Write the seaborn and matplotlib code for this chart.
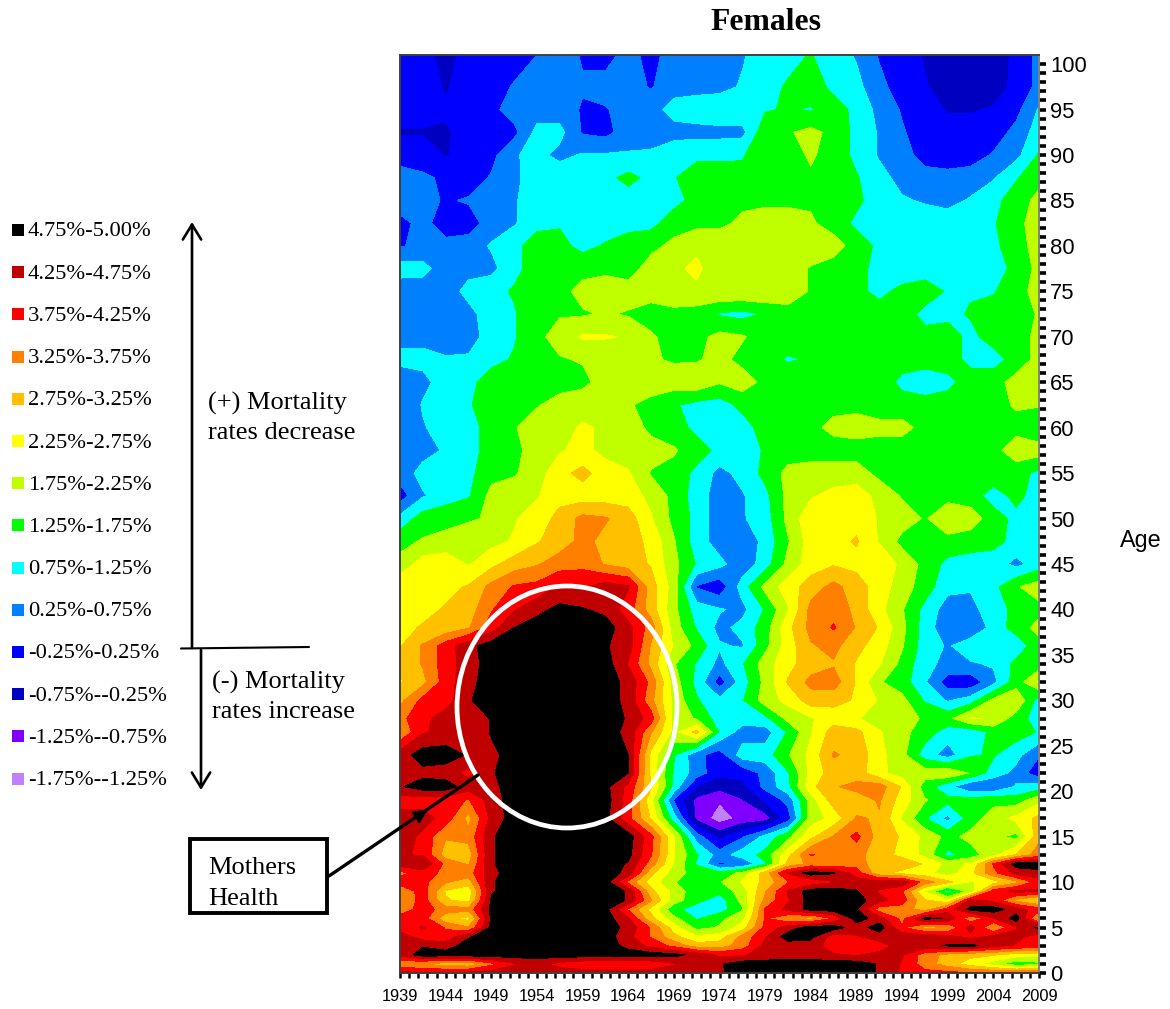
"""
Females: annual mortality improvement by age and calendar year, contour map.
Values read off the picture, one list per age, one value every 2.5 years.
"""
import numpy as np
import pandas as pd
import seaborn as sns
import matplotlib.pyplot as plt
from matplotlib.patches import Ellipse, Rectangle

years = [1939 + 2.5 * i for i in range(29)]

age_101 = [0, 0, -.5, 0, 0, 0, .25, .5, .2, 0, .5, 0, .6, .5, .5, .7, 1, 1.1, 1.28, 1, .7, .2, 0, -.3, -.6, -.6, -.6, -.1, .4]
age_97 = [0, 0, -.3, 0, 0, .3, .5, .5, .3, .5, .5, .2, .6, .6, .6, .8, 1.1, 1.3, 1.55, 1.1, .9, .4, 0, -.2, -.5, -.5, -.5, -.1, .4]
age_95 = [0, 0, -.2, 0, .1, .5, .5, .5, .2, .2, .5, .6, .9, 1, 1.1, 1.1, 1.2, 1.3, 1.2, 1.5, 1.1, .6, .2, 0, -.3, -.3, -.2, .1, .8]
age_92 = [-.3, -.3, -.3, -.1, 0, .1, .9, .9, .2, .1, .5, .6, .6, .6, .6, .6, 1.6, 1.7, 1.9, 1.6, 1.1, .7, .3, 0, 0, 0, 0, .4, 1]
age_90 = [.1, .1, -.3, 0, .1, .7, .9, .6, .8, .8, .8, .8, 1, 1.1, 1.1, 1.2, 1.6, 1.6, 1.8, 1.6, 1.1, .7, .4, .1, 0, 0, .3, .6, 1.3]
age_87 = [.4, .3, .2, 0, .3, .6, 1.1, 1.1, 1.1, 1.1, 1.4, 1.1, 1.2, 1.6, 1.6, 1.4, 1.6, 1.7, 1.7, 1.6, 1.3, .9, .6, .4, .4, .5, .7, 1.2, 1.6]
age_85 = [.5, .4, .2, .3, .5, .7, 1, 1, 1, 1, 1, 1, 1.1, 1.4, 1.6, 1.6, 1.6, 1.6, 1.7, 1.6, 1.4, .9, .8, .7, .6, .8, 1.1, 1.5, 1.9]
age_82 = [.1, .4, 0, 0, .5, .7, 1.1, 1.2, 1, 1, 1, 1.1, 1.5, 1.6, 1.6, 1.9, 2.1, 2.1, 1.8, 1.6, 1.1, 1, 1, 1, 1, 1, 1.2, 1.6, 2]
age_80 = [.2, .4, .4, .5, .8, 1.1, 1.5, 1.4, 1.1, 1.3, 1.6, 1.6, 1.9, 2.2, 2.2, 2.2, 2.1, 2.1, 2.1, 1.9, 1.6, 1.1, 1, .9, .9, .9, 1.1, 1.6, 1.9]
age_77 = [1, .9, .5, .6, .6, 1.1, 1.5, 1.6, 1.6, 1.6, 1.5, 2, 2.2, 2.3, 2.1, 2.1, 2.2, 2, 1.7, 1.6, 1.4, 1.1, .9, 1, .9, 1, 1, 1.4, 1.9]
age_75 = [.4, .5, .5, .9, 1.1, 1.3, 1.5, 1.6, 1.9, 2.1, 2, 1.9, 2.1, 2.2, 2.2, 2.2, 2.2, 2.1, 1.7, 1.5, 1.4, 1.1, 1.4, 1.5, 1.2, 1.2, 1.2, 1.6, 1.9]
age_72 = [.5, .5, .5, .6, 1, 1.2, 1.6, 1.7, 1.7, 1.8, 1.7, 1.6, 1.6, 1.5, 1.2, 1.1, 1.3, 1.5, 1.5, 1.5, 1.5, 1.5, 1.5, 1.1, 1.1, 1.3, 1.5, 1.5, 1.8]
age_70 = [.6, .6, .5, .6, .9, 1.2, 1.6, 2, 2.3, 2.3, 2.2, 1.8, 1.6, 1.6, 1.9, 1.8, 1.5, 1.5, 1.6, 1.5, 1.5, 1.5, 1.6, 1.4, 1.5, 1.1, 1.5, 1.5, 1.9]
age_67 = [.9, .9, .8, .8, 1.1, 1.3, 1.5, 1.7, 1.8, 1.8, 1.8, 1.8, 1.7, 1.7, 1.9, 1.6, 1.4, 1.2, 1.3, 1.5, 1.5, 1.5, 1.5, 1.5, 1.5, 1.1, 1, 1.5, 1.9]
age_65 = [.4, .6, 1, 1.1, 1.5, 1.6, 1.6, 1.5, 1.6, 2, 2.1, 2, 2, 2.1, 1.8, 2, 1.6, 1.6, 1.6, 1.6, 1.6, 1.6, 1.1, .9, 1.1, 1.5, 1.6, 1.9, 2]
age_62 = [.2, .8, .9, 1.2, 1.5, 1.6, 1.7, 2, 2.1, 2.2, 1.8, 1.6, 1.3, 1.1, 1, 1.4, 1.5, 1.6, 1.6, 1.6, 1.6, 1.5, 1.5, 1.5, 1.5, 1.6, 1.6, 1.8, 1.8]
age_60 = [.4, .7, 1, 1.1, 1.4, 1.7, 2.1, 2.1, 2.3, 2.2, 2.1, 1.6, 1.5, 1.1, 1, 1, 1.5, 1.6, 1.6, 1.9, 2, 1.9, 1.9, 1.6, 1.6, 1.6, 1.6, 1.6, 1.3]
age_57 = [.4, .6, .8, 1.1, 1.4, 1.6, 2, 2.2, 2.4, 2.1, 2, 2, 1.8, 1.5, 1.1, 1, 1.3, 1.5, 1.5, 1.5, 1.5, 1.5, 1.5, 1.5, 1.5, 1.6, 1.6, 2, 2]
age_55 = [.5, .9, 1, 1.1, 1.6, 1.7, 2, 2.6, 2.9, 2.5, 2.3, 1.7, 1.6, 1.1, .6, .9, 1.4, 1.9, 2, 2, 2, 1.6, 1.5, 1.5, 1.5, 1.5, 1.6, 1.5, 1.1]
age_52 = [0, .7, 1, 1.2, 1.9, 2, 2.2, 2.6, 2.5, 2.5, 2.5, 2.1, 1.6, 1, .5, .7, 1.1, 1.9, 2.2, 2.4, 2.5, 2.1, 1.7, 1.5, 1.6, 1.5, 1, 1.4, 1]
age_50 = [.9, 1.5, 1.6, 1.7, 1.8, 2.2, 2.5, 2.9, 3.4, 3.3, 3, 2.3, 1.6, 1.1, .4, .7, 1, 1.9, 2.6, 2.5, 2.6, 2.2, 2, 1.7, 2.1, 2, 1.5, 1.1, 1.1]
age_47 = [1.6, 1.8, 1.9, 2, 2.1, 2.3, 2.7, 3, 3.4, 3.1, 3, 2.6, 1.8, 1, .5, .4, .9, 1.7, 2.5, 2.6, 2.8, 2.2, 1.6, 1.6, 1.6, 1.5, 1.4, 1.1, 1]
age_45 = [1.9, 2.5, 2.6, 2.2, 2.6, 3, 3.2, 3.5, 3.6, 3.2, 3, 2.7, 1.9, 1.2, .9, .4, 1, 1.9, 2.5, 2.7, 2.6, 2.7, 2.1, 1.6, 1.1, 1, 1, .6, 1]
age_42 = [2.7, 2.7, 2.6, 2.8, 3.4, 3.8, 3.9, 4.3, 4.2, 4.5, 4.3, 3, 2, .2, -.1, 1, 1.9, 2.5, 3, 3.4, 3, 2.5, 2, 1.5, .9, .8, 1.1, 1.7, 2]
age_40 = [2.7, 2.6, 2.8, 3, 3.7, 4.2, 4.6, 4.9, 4.8, 4.6, 4, 3, 1.9, 1, .8, .6, 1.3, 2.2, 3.4, 3.6, 3.1, 2.4, 1.8, 1.1, .5, .6, 1, 1.4, 1.6]
age_38 = [2.6, 2.8, 2.9, 3.2, 4, 4.75, 5, 5, 5, 5, 4.4, 3.5, 2, 1.2, .6, .9, 1.5, 2.6, 3.4, 3.8, 3.2, 2.7, 1.9, 1, .4, .4, .9, 1.5, 1.9]
age_36 = [2.7, 3.3, 4, 4.6, 5, 5, 5, 5, 5, 4.8, 4.5, 3.2, 2.2, 1.6, .8, .7, 1.6, 2.5, 3.2, 3.4, 2.9, 2.5, 1.8, 1, .7, 1, 1, .9, 1.6]
age_34 = [2.8, 3.3, 4, 4.5, 5, 5, 5, 5, 5, 5, 4.2, 3.1, 1.8, 1.2, .6, 1.2, 2, 2.6, 3, 3.2, 2.7, 2.3, 1.6, .9, .6, .7, .8, 1.4, 1.5]
age_32 = [2.7, 3.1, 4, 4.6, 5, 5, 5, 5, 5, 5, 4.6, 3.6, 2, 1.1, 0, 1, 1.9, 2.8, 3.4, 3.5, 2.7, 1.8, 1.5, .8, 0, -.1, .6, 1.5, 2.3]
age_30 = [3.1, 3.9, 4, 4.7, 5, 5, 5, 5, 5, 5, 4.6, 3.4, 2.1, 1.3, .9, 1.2, 2, 2.4, 3, 2.9, 2.7, 2.2, 1.9, 1.2, .7, 1, 1.9, 2.2, 1]
age_28 = [3.6, 4.1, 4.5, 4.3, 4.8, 5, 5, 5, 5, 5, 4.7, 4, 2, 1.7, 1, 1, 1.1, 1.9, 2.2, 2.5, 2.3, 2, 1.9, 1.7, 1.6, 2.3, 2.2, 1.5, 1]
age_26 = [3.3, 4.2, 4.4, 4.3, 4.8, 5, 5, 5, 5, 5, 4.6, 3.3, 2.1, 2.9, 1.2, .5, .5, 1.3, 2.2, 3, 2.9, 2.3, 1.9, 1.5, 1, .9, 1.4, 1.5, 1.2]
age_24 = [4.5, 5, 5, 4.7, 4.6, 5, 5, 5, 5, 5, 4.75, 2.6, 1.3, .4, 0, 1, 1, 1.7, 2.4, 3.3, 3.1, 2.4, 1.9, 1, .5, 1.2, 1.3, .9, .3]
age_22 = [4.5, 4.6, 4.5, 4.1, 4.7, 5, 5, 5, 5, 5, 4.75, 2.6, 1.2, .5, -.1, -.1, .4, 1.2, 2.4, 3, 3, 2.4, 2, 2, 2.2, 1.7, 1, .6, -.1]
age_20 = [4.7, 5, 5, 4.5, 4.6, 5, 5, 5, 5, 4.9, 4.1, 2.8, 1.1, -.3, -.6, -.4, .4, 1.1, 2.6, 3.2, 3.4, 3.5, 2.7, 1.5, .9, .3, .3, .8, 1]
age_19 = [4, 4, 4, 3.7, 4.5, 5, 5, 5, 5, 5, 4, 2.4, .2, -.9, -1.2, -.8, -.2, .4, 2, 3, 3, 3.3, 2.5, 1.8, 1.4, 1.5, 1.6, 1.5, 2.1]
age_17 = [4.5, 4.5, 4, 3.1, 4.4, 5, 5, 5, 5, 4.9, 3.9, 2.7, 1, -.9, -1.5, -1.1, -1, 0, 2, 2.4, 3.3, 3.2, 2.2, 1.3, .6, 1.5, 2, 2.4, 2.9]
age_15 = [4.6, 4.1, 3.3, 3.4, 4.7, 5, 5, 5, 5, 5, 5, 3.9, 2.3, .5, -.4, .2, .9, 1.6, 2.6, 3.3, 3.9, 3, 2.7, 2.1, 1.6, 1.9, 1.9, 1.6, 3.1]
age_13 = [4.3, 4.2, 3, 3, 4.7, 5, 5, 5, 5, 5, 4.9, 3.8, 2.3, 1.3, .5, 1, 1.4, 2.6, 3.8, 3.5, 3.4, 3, 2.6, 2.1, 1.1, 1.5, 2.1, 2.8, 3.5]
age_12 = [4.5, 4.7, 3.6, 3.2, 4.7, 5, 5, 5, 5, 5, 4.7, 3.5, 2.2, 1.2, .2, .3, 1.2, 2.9, 3.4, 3.3, 3.6, 2.8, 3.1, 2.7, 2.1, 2.3, 3.8, 5, 5]
age_11 = [3.6, 4, 3.6, 3.5, 4.6, 5, 5, 5, 5, 5, 4.6, 2.9, 2, 1.5, 1.4, 1.9, 3, 4.3, 5, 4.8, 4, 2.9, 2.6, 2.4, 2, 2.6, 3.6, 4.4, 4.6]
age_10 = [4, 3.9, 3.3, 3, 4.7, 5, 5, 5, 5, 5, 3.6, 2.5, 1.8, 1.3, 1.7, 2.3, 2.9, 3.7, 3.9, 4.2, 4.5, 4.5, 4.6, 3.5, 2.9, 2.2, 2.5, 3.1, 4]
age_9 = [3.3, 4, 2.7, 2.4, 4.7, 5, 5, 5, 5, 5, 4.7, 2.9, 2.1, 1.4, 1.4, 2, 3.2, 4.3, 5, 5, 4.8, 4.2, 3.8, 2.2, 1, 1.9, 4, 4.4, 4.3]
age_8 = [3.2, 4, 2.8, 2.6, 4.8, 5, 5, 5, 5, 5, 4.7, 3.3, 2, 1.4, 1, 1.9, 3.4, 4.2, 5, 5, 5, 4.4, 4, 2.8, 2.3, 4.4, 4.1, 3.1, 2.6]
age_7 = [3.4, 4, 3.5, 3.4, 4.9, 5, 5, 5, 5, 4.9, 3.7, 2.6, 1.4, 1, 1, 1.7, 3.8, 4.4, 4.9, 5, 4.8, 3.5, 3.5, 3, 4, 4.9, 5, 4.5, 4]
age_6 = [4, 4, 2.9, 2.6, 4.8, 5, 5, 5, 5, 5, 4.3, 2.9, 1.9, 1.2, 1.6, 2.1, 3.8, 3.3, 3.1, 3.8, 5, 4.5, 3.6, 4.9, 4.7, 3.3, 4.2, 5, 3]
age_5 = [4, 4.3, 3.7, 3.3, 4.9, 5, 5, 5, 5, 5, 4.6, 3.7, 2.5, 1.6, 1.8, 2.5, 3.9, 4.5, 5, 5, 4.5, 5, 3.8, 3.1, 3.2, 4.5, 3.2, 4.2, 4.9]
age_4 = [4.5, 4, 3.9, 4.7, 5, 5, 5, 5, 5, 5, 4.4, 3.7, 2.9, 2.3, 2.5, 3.4, 4.2, 5, 4.9, 4, 4.2, 4.5, 4.6, 4.6, 4.4, 4.1, 4.4, 4.4, 4]
age_3 = [4.2, 4.7, 4.5, 5, 5, 5, 5, 5, 5, 5, 4.6, 4.1, 3.6, 3, 3, 3.5, 4.4, 4.5, 4.5, 4, 4, 4, 4.5, 4.6, 4.8, 4.9, 4.4, 4.2, 4.1]
age_2 = [4.4, 5, 5, 5, 5, 5, 5, 5, 5, 5, 5, 5, 4.9, 4.6, 4.1, 4.2, 4.4, 4.5, 4.5, 4.3, 4.2, 4.4, 4.3, 3.5, 3.1, 2.9, 2.8, 2.5, 2.4]
age_1 = [3.4, 3.2, 3, 2.9, 3.6, 4.2, 4.4, 4.1, 3.9, 3.8, 3.8, 3.9, 4.2, 4.4, 4.7, 5, 5, 5, 5, 5, 5, 4.7, 4.2, 3.5, 3, 2.5, 2, 1.4, 1.6]
age_0 = [4.4, 4.3, 4.3, 4.4, 4.5, 4.5, 4.5, 4.5, 4.5, 4.5, 4.5, 4.5, 4.5, 4.6, 4.7, 4.9, 5, 5, 5, 5, 5, 4.7, 4.2, 3.9, 3.9, 3.8, 3.8, 3.8, 3.8]

ages = [0, 1, 2, 3, 4, 5, 6, 7, 8, 9, 10, 11, 12, 13, 15, 17, 19, 20.5, 22, 24, 26.5, 28, 30, 32, 34, 36, 38, 40,
        42.5, 45, 47.5, 50, 52.5, 55, 57.5, 60, 62.5, 65, 67.5, 70, 72.5, 75, 77.5, 80, 82.5, 85, 87.5, 90, 92.5,
        95, 97.5, 101]
rows = [age_0, age_1, age_2, age_3, age_4, age_5, age_6, age_7, age_8, age_9, age_10, age_11, age_12, age_13,
        age_15, age_17, age_19, age_20, age_22, age_24, age_26, age_28, age_30, age_32, age_34, age_36, age_38, age_40,
        age_42, age_45, age_47, age_50, age_52, age_55, age_57, age_60, age_62, age_65, age_67, age_70, age_72, age_75,
        age_77, age_80, age_82, age_85, age_87, age_90, age_92, age_95, age_97, age_101]

levels = [-1.75, -1.25, -.75, -.25, .25, .75, 1.25, 1.75, 2.25, 2.75, 3.25, 3.75, 4.25, 4.75, 5.25]
band_colors = ['#BF80FF', '#8000FF', '#0000C0', '#0000FF', '#0080FF', '#00FFFF', '#00FF00',
               '#BFFF00', '#FFFF00', '#FFC000', '#FF8000', '#FF0000', '#C00000', '#000000']
legend_labels = ['4.75%-5.00%', '4.25%-4.75%', '3.75%-4.25%', '3.25%-3.75%', '2.75%-3.25%', '2.25%-2.75%',
                 '1.75%-2.25%', '1.25%-1.75%', '0.75%-1.25%', '0.25%-0.75%', '-0.25%-0.25%', '-0.75%--0.25%',
                 '-1.25%--0.75%', '-1.75%--1.25%']

rates = pd.DataFrame(rows, index=ages, columns=years)

W, H = 1170, 1009
sns.set_theme(style='white')
plt.rcParams['font.family'] = ['Liberation Sans', 'DejaVu Sans']
palette = sns.color_palette(band_colors)

fig = plt.figure(figsize=(W / 100, H / 100), dpi=100)
ax = fig.add_axes([400 / W, 1 - 973 / H, 639 / W, 918 / H])
cs = ax.contourf(rates.columns, rates.index, rates.values, levels=levels, colors=palette, antialiased=False)
ax.set_xlim(1939, 2009)
ax.set_ylim(0, 101)

ax.yaxis.tick_right()
ax.set_yticks(range(0, 101))
ax.set_yticklabels([str(a) if a % 5 == 0 else '' for a in range(0, 101)], fontsize=15.8, color='black')
ax.set_xticks(range(1939, 2010))
ax.set_xticklabels([str(y) if (y - 1939) % 5 == 0 else '' for y in range(1939, 2010)], fontsize=11.8, color='black')
ax.tick_params(axis='y', which='major', right=True, length=5, width=2.6, color='black', pad=3)
ax.tick_params(axis='x', which='major', bottom=True, length=3.5, width=1.8, color='black', pad=8)
for side in ax.spines.values():
    side.set_color('#404040')
    side.set_linewidth(1.4)
ax.spines['right'].set_color('#808080')

fig.text(766 / W, 1 - 23 / H, 'Females', ha='center', va='center', fontsize=22.8, fontweight='bold',
         family='Liberation Serif', color='black')
fig.text(1141 / W, 1 - 540 / H, 'Age', ha='center', va='center', fontsize=16.8, color='black')

# overlay in pixel coordinates for the hand drawn notes on the chart
note = fig.add_axes([0, 0, 1, 1], facecolor='none')
note.set_xlim(0, W)
note.set_ylim(H, 0)
note.axis('off')

note.add_patch(Ellipse((567, 707), 220, 242, fill=False, edgecolor='white', linewidth=3.4))

serif = 'Liberation Serif'
for i, (label, color) in enumerate(zip(legend_labels, palette[::-1])):
    y = 230 + i * 42.2
    note.add_patch(Rectangle((12, y - 6), 12, 12, color=color, linewidth=0))
    note.text(28, y + 2, label, va='center', ha='left', fontsize=16.2, family=serif, color='black')

arrow = dict(arrowstyle='->,head_length=0.9,head_width=0.55', color='black', lw=1.9, shrinkA=0, shrinkB=0)
note.annotate('', xy=(192, 222), xytext=(192, 648), arrowprops=arrow)
note.annotate('', xy=(201, 790), xytext=(201, 650), arrowprops=arrow)
note.plot([181, 309], [648.5, 647], color='black', lw=1.5)

note.text(208, 403, '(+) Mortality', va='center', fontsize=19, family=serif, color='black')
note.text(208, 433, 'rates decrease', va='center', fontsize=19, family=serif, color='black')
note.text(212, 682, '(-) Mortality', va='center', fontsize=19, family=serif, color='black')
note.text(212, 712, 'rates increase', va='center', fontsize=19, family=serif, color='black')

note.add_patch(Rectangle((190, 839), 137, 74, facecolor='white', edgecolor='black', linewidth=2.8))
note.text(208, 868, 'Mothers', va='center', fontsize=19, family=serif, color='black')
note.text(208, 899, 'Health', va='center', fontsize=19, family=serif, color='black')
note.plot([329, 478], [876, 775], color='black', lw=2.4)
note.annotate('', xy=(430, 808), xytext=(412, 820),
              arrowprops=dict(arrowstyle='-|>,head_length=0.7,head_width=0.35', color='black', lw=1.5))

fig.savefig('out.png', dpi=100)
